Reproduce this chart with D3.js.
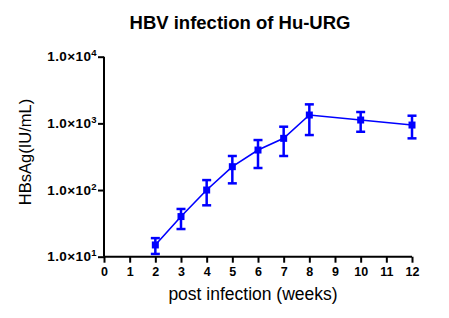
<!DOCTYPE html>
<html lang="en">
<head>
<meta charset="UTF-8">
<title>HBV infection of Hu-URG</title>
<script src="https://d3js.org/d3.v7.min.js"></script>
<style>
  body { margin: 0; background: #fff; }
  text { font-family: Arial, "Liberation Sans", sans-serif; }
</style>
</head>
<body>
<div id="chart"></div>
<script>
// data
const weeks = [2, 3, 4, 5, 6, 7, 8, 10, 12];
const hbsag = [15, 40, 100, 224, 398, 596, 1334, 1122, 944];
const errLow = [11, 26, 59, 126, 214, 324, 668, 748, 596];
const errHigh = [19, 52, 141, 324, 562, 891, 1928, 1480, 1303];
const xTicks = d3.range(0, 13);
const yTicks = [1, 2, 3, 4];

const width = 449, height = 318;
const svg = d3.select("#chart").append("svg")
    .attr("width", width)
    .attr("height", height);

const x = d3.scaleLinear().domain([0, 12]).range([104, 412]);
const y = d3.scaleLog().domain([10, 10000]).range([256.7, 56.7]);

// title
svg.append("text")
    .attr("x", 240).attr("y", 29)
    .attr("text-anchor", "middle")
    .style("font-size", "18.5px").style("font-weight", "bold")
    .text("HBV infection of Hu-URG");

// y axis
const yAxis = svg.append("g")
    .attr("transform", "translate(104,0)")
    .call(d3.axisLeft(y).tickValues(yTicks.map(p => Math.pow(10, p))).tickSize(6).tickFormat(""));
yAxis.select(".domain").attr("stroke-width", 2).attr("d", `M0,${y(10)}V${y(10000)}`);
yAxis.selectAll(".tick line").attr("stroke-width", 2);

const yl = svg.append("g").selectAll("text").data(yTicks).join("text")
    .attr("x", 97)
    .attr("y", p => y(Math.pow(10, p)) + 4.5)
    .attr("text-anchor", "end")
    .style("font-size", "13.5px").style("font-weight", "bold")
    .style("letter-spacing", "0.4px");
yl.append("tspan").text("1.0\u00d710");
yl.append("tspan").attr("dy", -5).style("font-size", "9.5px").text(p => p);

// x axis
const xAxis = svg.append("g")
    .attr("transform", `translate(0,${y(10)})`)
    .call(d3.axisBottom(x).tickValues(xTicks).tickSize(6).tickPadding(4).tickFormat(d3.format("d")));
xAxis.select(".domain").attr("stroke-width", 2).attr("d", `M${x(0)},0H${x(12)}`);
xAxis.selectAll(".tick line").attr("stroke-width", 2);
xAxis.selectAll(".tick text")
    .style("font-size", "12.5px").style("font-weight", "bold")
    .style("font-family", "Arial, 'Liberation Sans', sans-serif")
    .attr("fill", "#000");

// axis titles
svg.append("text")
    .attr("x", 253).attr("y", 300)
    .attr("text-anchor", "middle")
    .style("font-size", "17.5px")
    .text("post infection (weeks)");

svg.append("text")
    .attr("transform", "translate(31,152) rotate(-90)")
    .attr("text-anchor", "middle")
    .style("font-size", "16.5px")
    .text("HBsAg(IU/mL)");

// series
const pts = weeks.map((w, i) => ({ w, v: hbsag[i], lo: errLow[i], hi: errHigh[i] }));
const blue = "#0000ff";

svg.append("path")
    .datum(pts)
    .attr("fill", "none")
    .attr("stroke", blue)
    .attr("stroke-width", 1.6)
    .attr("d", d3.line().x(d => x(d.w)).y(d => y(d.v)));

const eb = svg.append("g").attr("stroke", blue).attr("stroke-width", 2.5);
eb.selectAll(".v").data(pts).join("line")
    .attr("x1", d => x(d.w)).attr("x2", d => x(d.w))
    .attr("y1", d => y(d.lo)).attr("y2", d => y(d.hi));
eb.selectAll(".cl").data(pts).join("line")
    .attr("x1", d => x(d.w) - 4.5).attr("x2", d => x(d.w) + 4.5)
    .attr("y1", d => y(d.lo)).attr("y2", d => y(d.lo));
eb.selectAll(".ch").data(pts).join("line")
    .attr("x1", d => x(d.w) - 4.5).attr("x2", d => x(d.w) + 4.5)
    .attr("y1", d => y(d.hi)).attr("y2", d => y(d.hi));

svg.append("g").selectAll("rect").data(pts).join("rect")
    .attr("x", d => x(d.w) - 3.5).attr("y", d => y(d.v) - 3.5)
    .attr("width", 7).attr("height", 7)
    .attr("fill", blue);
</script>
</body>
</html>
